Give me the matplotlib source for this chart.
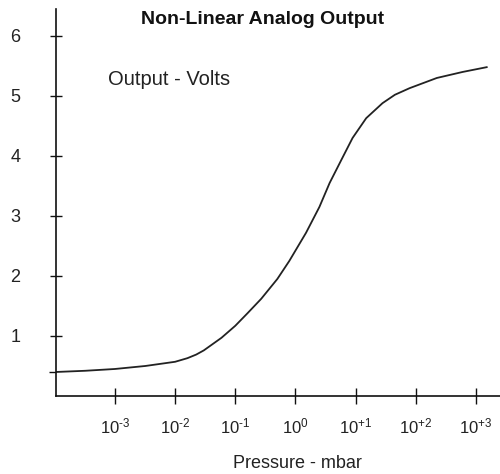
import matplotlib
matplotlib.use("Agg")
import matplotlib.pyplot as plt

plt.rcParams['font.family'] = ['Liberation Sans', 'DejaVu Sans']
plt.rcParams['mathtext.fontset'] = 'custom'
plt.rcParams['mathtext.rm'] = 'Liberation Sans'
plt.rcParams['mathtext.it'] = 'Liberation Sans'

# Data
pressure_mbar = [1.05e-4, 3.2e-4, 1e-3, 3.2e-3, 1e-2, 1.6e-2, 2.24e-2, 3.0e-2, 5.9e-2, 0.10, 0.16,
                 0.27, 0.50, 0.79, 1.5, 2.5, 3.7, 5.9, 8.9, 15.0, 28.0, 45.0, 79.0, 224.0, 600.0, 1510.0]
output_volts = [0.40, 0.42, 0.45, 0.50, 0.57, 0.63, 0.69, 0.76, 0.97, 1.17, 1.38,
                1.62, 1.95, 2.25, 2.72, 3.15, 3.55, 3.95, 4.30, 4.63, 4.88, 5.02, 5.13, 5.30, 5.40, 5.48]
x_ticks = [1e-3, 1e-2, 1e-1, 1e0, 1e1, 1e2, 1e3]
x_tick_labels = ['10$^{\u20103}$', '10$^{\u20102}$', '10$^{\u20101}$', '10$^{0}$',
                 '10$^{+1}$', '10$^{+2}$', '10$^{+3}$']
y_ticks = [1, 2, 3, 4, 5, 6]
y_tick_labels = ['1', '2', '3', '4', '5', '6']

fig = plt.figure(figsize=(5.0, 4.74), dpi=100)
ax = fig.add_axes([0.112, 0.1646, 0.888, 0.8165])
ax.plot(pressure_mbar, output_volts, color='#222222', lw=1.3, solid_joinstyle='round')
ax.set_xscale('log')
ax.set_xlim(10**-3.98, 10**3.4)
ax.set_ylim(0, 6.45)
ax.set_xticks(x_ticks)
ax.set_xticklabels(x_tick_labels)
ax.minorticks_off()
ax.set_yticks(y_ticks)
ax.set_yticklabels(y_tick_labels)
ax.set_yticks([0.4], minor=True)
for s in ['top', 'right']:
    ax.spines[s].set_visible(False)
for s in ['left', 'bottom']:
    ax.spines[s].set_linewidth(1.2)
    ax.spines[s].set_color('#111111')
ax.tick_params(axis='x', which='major', direction='inout', length=11.5, width=1.0,
               color='#111111', labelsize=12, labelcolor='#222222', pad=9)
ax.tick_params(axis='y', which='major', direction='inout', length=9, width=1.0,
               color='#111111', labelsize=13, labelcolor='#222222', pad=21)
ax.tick_params(axis='y', which='minor', direction='out', length=5, width=1.0, color='#111111')

ax.text(0.117, 0.817, 'Output - Volts', transform=ax.transAxes, fontsize=14.5,
        color='#222222', ha='left', va='center')
fig.text(263/500, 1 - 20/474, 'Non-Linear Analog Output', fontsize=14, fontweight='bold',
         color='#111111', ha='center', va='center')
fig.text(297/500, 1 - 463/474, 'Pressure - mbar', fontsize=13, color='#222222',
         ha='center', va='center')

fig.savefig('out.png', dpi=100)
